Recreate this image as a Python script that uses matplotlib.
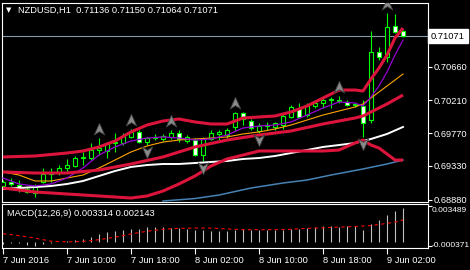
import numpy as np
import matplotlib
matplotlib.use("Agg")
import matplotlib.pyplot as plt
from matplotlib import font_manager
from matplotlib.path import Path
from matplotlib.transforms import offset_copy, blended_transform_factory

# NZDUSD H1 bars, 7 Jun 2016 02:00 .. 9 Jun 04:00
opens = [0.69061, 0.69115, 0.69074, 0.68981, 0.68967, 0.69115, 0.69222, 0.69235, 0.69302, 0.69329,
         0.69436, 0.69436, 0.69543, 0.69530, 0.69637, 0.69637, 0.69718, 0.69785, 0.69650, 0.69704,
         0.69691, 0.69718, 0.69771, 0.69664, 0.69677, 0.69476, 0.69691, 0.69758, 0.69744, 0.69852,
         0.70039, 0.69932, 0.69798, 0.69865, 0.69852, 0.69878, 0.69986, 0.70106, 0.70012, 0.70133,
         0.70173, 0.70213, 0.70213, 0.70187, 0.70146, 0.70133, 0.69945, 0.70857, 0.70790, 0.71205,
         0.71136]
highs = [0.69141, 0.69168, 0.69141, 0.69047, 0.69088, 0.69302, 0.69302, 0.69342, 0.69423, 0.69463,
         0.69516, 0.69637, 0.69704, 0.69650, 0.69771, 0.69771, 0.69825, 0.69811, 0.69718, 0.69758,
         0.69758, 0.69811, 0.69811, 0.69744, 0.69704, 0.69718, 0.69811, 0.69811, 0.69838, 0.70053,
         0.70053, 0.69959, 0.69905, 0.69919, 0.69919, 0.70039, 0.70146, 0.70173, 0.70173, 0.70200,
         0.70254, 0.70254, 0.70267, 0.70213, 0.70173, 0.70213, 0.71138, 0.70924, 0.71379, 0.71366,
         0.71150]
lows = [0.69021, 0.69061, 0.68981, 0.68967, 0.68914, 0.69101, 0.69115, 0.69208, 0.69249, 0.69316,
        0.69342, 0.69409, 0.69476, 0.69436, 0.69516, 0.69610, 0.69704, 0.69637, 0.69610, 0.69677,
        0.69664, 0.69691, 0.69650, 0.69637, 0.69463, 0.69396, 0.69677, 0.69677, 0.69704, 0.69798,
        0.69878, 0.69811, 0.69771, 0.69811, 0.69811, 0.69825, 0.69972, 0.69972, 0.69986, 0.70106,
        0.70106, 0.70106, 0.70173, 0.70133, 0.70120, 0.69718, 0.69905, 0.70750, 0.70723, 0.71111,
        0.71064]
closes = [0.69115, 0.69088, 0.69021, 0.69021, 0.69061, 0.69222, 0.69235, 0.69302, 0.69342, 0.69436,
          0.69450, 0.69543, 0.69570, 0.69637, 0.69650, 0.69731, 0.69785, 0.69650, 0.69704, 0.69718,
          0.69731, 0.69771, 0.69691, 0.69718, 0.69476, 0.69691, 0.69771, 0.69785, 0.69811, 0.70039,
          0.69959, 0.69838, 0.69865, 0.69878, 0.69905, 0.69999, 0.70120, 0.69986, 0.70146, 0.70173,
          0.70213, 0.70226, 0.70200, 0.70146, 0.70160, 0.69905, 0.70857, 0.70790, 0.71192, 0.71125,
          0.71071]

# indicator lines (bar index, value)
bb_up_x = [0, 4, 8, 10, 12, 14, 16, 18, 20, 22, 24, 26, 28, 30, 32, 34, 36, 38, 40, 42, 44, 45, 46, 47, 48, 49, 50]
bb_up = [0.69450, 0.69463, 0.69503, 0.69530, 0.69584, 0.69664, 0.69785, 0.69878, 0.69932, 0.69959,
         0.69919, 0.69892, 0.69892, 0.69972, 0.69986, 0.69999, 0.70053, 0.70133, 0.70240, 0.70347,
         0.70347, 0.70334, 0.70495, 0.70642, 0.70816, 0.71044, 0.71178]
bb_mid_x = [0, 4, 8, 12, 16, 20, 24, 28, 32, 36, 40, 44, 45, 46, 48, 50]
bb_mid = [0.69249, 0.69235, 0.69235, 0.69275, 0.69356, 0.69450, 0.69584, 0.69677, 0.69744, 0.69798,
          0.69892, 0.69972, 0.69999, 0.70053, 0.70160, 0.70280]
bb_lo_x = [0, 4, 8, 12, 16, 18, 20, 22, 24, 26, 28, 30, 32, 34, 36, 38, 40, 42, 44, 45, 46, 47, 48, 49, 50]
bb_lo = [0.69034, 0.68981, 0.68954, 0.68927, 0.68900, 0.68927, 0.68994, 0.69088, 0.69195, 0.69329,
         0.69423, 0.69476, 0.69530, 0.69530, 0.69530, 0.69530, 0.69530, 0.69543, 0.69637, 0.69677,
         0.69610, 0.69570, 0.69490, 0.69409, 0.69409]
ma_x = [0, 2, 4, 6, 8, 10, 12, 14, 16, 18, 20, 22, 24, 26, 28, 30, 32, 34, 36, 38, 40, 42, 44, 45, 46, 47, 48, 49, 50]
ma_fast = [0.69168, 0.69088, 0.69061, 0.69088, 0.69168, 0.69302, 0.69476, 0.69584, 0.69664, 0.69704,
           0.69718, 0.69704, 0.69677, 0.69691, 0.69744, 0.69838, 0.69865, 0.69878, 0.69919, 0.70012,
           0.70106, 0.70187, 0.70173, 0.70133, 0.70254, 0.70401, 0.70589, 0.70816, 0.71017]
ma_mid = [0.69249, 0.69208, 0.69128, 0.69128, 0.69168, 0.69208, 0.69302, 0.69409, 0.69517, 0.69597,
          0.69650, 0.69677, 0.69691, 0.69704, 0.69718, 0.69758, 0.69785, 0.69825, 0.69878, 0.69945,
          0.70012, 0.70066, 0.70120, 0.70160, 0.70240, 0.70321, 0.70401, 0.70481, 0.70562]
ma_slow_x = [0, 2, 4, 6, 8, 10, 12, 14, 16, 18, 20, 22, 24, 26, 28, 30, 32, 34, 36, 38, 40, 42, 44, 46, 48, 50]
ma_slow = [0.69021, 0.69034, 0.69047, 0.69061, 0.69088, 0.69128, 0.69195, 0.69262, 0.69316, 0.69342,
           0.69356, 0.69356, 0.69369, 0.69383, 0.69396, 0.69423, 0.69436, 0.69463, 0.69503, 0.69543,
           0.69584, 0.69610, 0.69637, 0.69691, 0.69758, 0.69852]
ma_long_x = [20, 24, 27, 31, 35, 38, 41, 45, 48, 50]
ma_long = [0.68860, 0.68893, 0.68940, 0.69034, 0.69101, 0.69141, 0.69208, 0.69289, 0.69356, 0.69409]

fractal_up = [12, 16, 21, 29, 42, 48]
fractal_down = [18, 25, 32, 45]

# MACD(12,26,9)
macd_hist = [-0.00020, -0.00015, -0.00012, -0.00030, -0.00037, -0.00020, -0.00010, -0.00002, 0.00012, 0.00020,
             0.00028, 0.00052, 0.00077, 0.00098, 0.00105, 0.00113, 0.00129, 0.00129, 0.00144, 0.00144,
             0.00144, 0.00140, 0.00138, 0.00130, 0.00118, 0.00115, 0.00110, 0.00110, 0.00105, 0.00113,
             0.00129, 0.00119, 0.00113, 0.00113, 0.00113, 0.00113, 0.00123, 0.00129, 0.00135, 0.00144,
             0.00153, 0.00153, 0.00150, 0.00153, 0.00153, 0.00119, 0.00175, 0.00211, 0.00267, 0.00303,
             0.003314]
signal_x = [0, 2, 4, 6, 8, 10, 12, 14, 16, 18, 20, 22, 24, 26, 28, 30, 32, 34, 36, 38, 40, 42, 44, 46, 47, 48, 49, 50]
signal = [0.00080, 0.00061, 0.00037, 0.00006, 0.00000, 0.00004, 0.00021, 0.00046, 0.00077, 0.00104,
          0.00123, 0.00132, 0.00135, 0.00135, 0.00126, 0.00119, 0.00119, 0.00119, 0.00123, 0.00132,
          0.00138, 0.00144, 0.00150, 0.00159, 0.00169, 0.00181, 0.00193, 0.002143]

price_ticks = [0.70660, 0.70210, 0.69770, 0.69330, 0.68880]
macd_ticks = [0.003489, -0.000371]
time_ticks = [0, 8, 16, 24, 32, 40, 48]
time_labels = ["7 Jun 2016", "7 Jun 10:00", "7 Jun 18:00", "8 Jun 02:00",
               "8 Jun 10:00", "8 Jun 18:00", "9 Jun 02:00"]
last_price = 0.71071

GREEN = "#00ff00"
W, H = 470, 270

names = {f.name for f in font_manager.fontManager.ttflist}
FONT = "Liberation Sans Narrow" if "Liberation Sans Narrow" in names else "Liberation Sans"
FS = 7.6 if FONT == "Liberation Sans Narrow" else 6.7
FS_SMALL = FS if FONT == "Liberation Sans Narrow" else 6.0
plt.rcParams["font.family"] = [FONT, "DejaVu Sans"]

fig = plt.figure(figsize=(W / 100, H / 100), dpi=100, facecolor="black")
ax = fig.add_axes([2 / W, 1 - 202 / H, 426 / W, 199 / H], facecolor="black")
ax2 = fig.add_axes([2 / W, 1 - 248 / H, 426 / W, 44 / H], facecolor="black")

for a in (ax, ax2):
    for s in a.spines.values():
        s.set_color("white")
        s.set_linewidth(0.8)
    a.set_xlim(-0.125, 53.125)

# candles
idx = np.arange(len(opens))
o = np.array(opens)
c = np.array(closes)
bull = c >= o
ax.vlines(idx, lows, highs, color=GREEN, lw=0.8, zorder=2)
ax.bar(idx, np.abs(c - o), bottom=np.minimum(o, c), width=0.6,
       color=np.where(bull, "black", "white"), edgecolor=GREEN, lw=0.8, zorder=3)

# indicators
ax.plot(ma_long_x, ma_long, color="#4682b4", lw=1.1, zorder=4)
ax.plot(ma_slow_x, ma_slow, color="white", lw=1.4, zorder=4)
ax.plot(ma_x, ma_mid, color="#ffa500", lw=0.8, zorder=4)
ax.plot(ma_x, ma_fast, color="#9400d3", lw=0.9, zorder=4)
for bx, by in ((bb_up_x, bb_up), (bb_mid_x, bb_mid), (bb_lo_x, bb_lo)):
    ax.plot(bx, by, color="#dc143c", lw=2.2, zorder=5, solid_capstyle="butt")

ax.axhline(last_price, color="#8899aa", lw=0.8, zorder=1)

# fractals
up_arrow = Path([(0, 1), (0.85, -0.9), (0, -0.35), (-0.85, -0.9), (0, 1)],
                [Path.MOVETO, Path.LINETO, Path.LINETO, Path.LINETO, Path.CLOSEPOLY])
down_arrow = Path([(0, -1), (0.85, 0.9), (0, 0.35), (-0.85, 0.9), (0, -1)],
                  [Path.MOVETO, Path.LINETO, Path.LINETO, Path.LINETO, Path.CLOSEPOLY])
hi = np.array(highs)
lo = np.array(lows)
ax.plot(fractal_up, hi[fractal_up], ls="none", marker=up_arrow, ms=9,
        mfc="#8a8a8a", mec="#3c3c3c", mew=0.6, zorder=6,
        transform=offset_copy(ax.transData, fig=fig, y=9, units="dots"))
ax.plot(fractal_down, lo[fractal_down], ls="none", marker=down_arrow, ms=9,
        mfc="#8a8a8a", mec="#3c3c3c", mew=0.6, zorder=6,
        transform=offset_copy(ax.transData, fig=fig, y=-7, units="dots"))

ax.set_ylim(0.688466, 0.715132)
ax.yaxis.tick_right()
ax.set_yticks(price_ticks)
ax.set_yticklabels([f"{v:.5f}" for v in price_ticks])
ax.tick_params(axis="y", colors="white", labelsize=FS, length=3, width=0.8, pad=0.8)
ax.set_xticks([])

tr = blended_transform_factory(ax.transAxes, ax.transData)
ax.text(1.007, last_price, f"{last_price:.5f}", transform=tr, ha="left", va="center",
        fontsize=FS, color="black", clip_on=False,
        bbox=dict(boxstyle="square,pad=0.3", fc="white", ec="white"))

# MACD panel
ax2.vlines(idx, 0, macd_hist, color="#c0c0c0", lw=0.8)
ax2.plot(signal_x, signal, color="red", lw=0.8, dashes=(3, 3))
ax2.set_ylim(-0.00060, 0.00370)
ax2.yaxis.tick_right()
ax2.set_yticks(macd_ticks)
ax2.set_yticklabels([])
ax2.tick_params(axis="y", colors="white", length=3, width=0.8)
tr2 = blended_transform_factory(ax2.transAxes, ax2.transData)
for v, dy in zip(macd_ticks, (-4, 0)):
    ax2.text(1.0, v, f"{v:.6f}", color="white", fontsize=FS_SMALL, ha="left", va="center",
             clip_on=False,
             transform=offset_copy(tr2, fig=fig, x=4, y=dy, units="dots"))
ax2.set_xticks(time_ticks)
ax2.set_xticklabels(time_labels, ha="left")
ax2.tick_params(axis="x", colors="white", labelsize=FS, length=4, width=0.8, pad=2)

# header texts
fig.text(9 / W, 1 - 10.5 / H, "\u25bc", color="white", fontsize=5, ha="center", va="center",
         family="DejaVu Sans")
fig.text(18 / W, 1 - 10.5 / H, "NZDUSD,H1  0.71136 0.71150 0.71064 0.71071",
         color="white", fontsize=FS, ha="left", va="center")
fig.text(7 / W, 1 - 213 / H, "MACD(12,26,9) 0.003314 0.002143",
         color="white", fontsize=FS, ha="left", va="center")

fig.savefig("out.png", dpi=100, facecolor="black")
